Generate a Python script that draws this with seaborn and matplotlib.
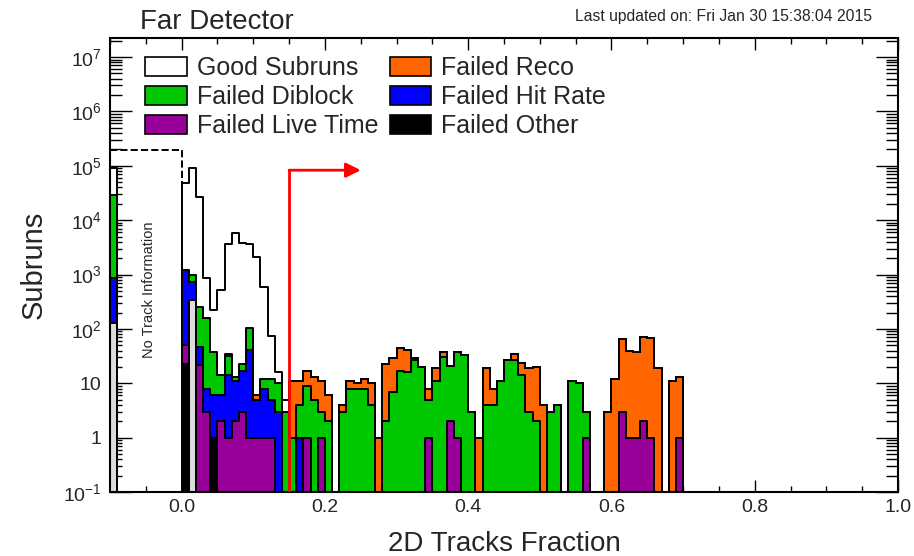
import numpy as np
import pandas as pd
import matplotlib
matplotlib.use("Agg")
import matplotlib.pyplot as plt
import matplotlib.ticker as mticker
from matplotlib.patches import Patch
import seaborn as sns

# 0.01 wide bins from -0.1 to 1.0
bin_edges = list(np.round(np.linspace(-0.1, 1.0, 111), 2))
bin_lo = np.round(np.arange(70) * 0.01, 2)      # bins 0.00 .. 0.69
first_lo = -0.10                                # lone bin at -0.10

# stacking order, top first (seaborn stacks the last level at the bottom)
categories = ["Good Subruns", "Failed Reco", "Failed Diblock", "Failed Hit Rate",
              "Failed Live Time", "Failed Other", "Unlisted"]
colors = ["white", "#ff6600", "#00c800", "#0000ff", "#990099", "black", "#dcdcdc"]

# counts in the -0.10 bin, same order as categories
first_counts = [64000, 0, 28100, 750, 0, 0, 130]

good = [46800, 92000, 26750, 692, 186, 506, 3565, 5787, 3777, 3497,
        2094, 588, 61, 6, 2, 0, 0, 0, 0, 0] + [0] * 50
reco = [0, 0, 0, 0, 0, 0, 3, 0, 0, 0,
        1, 0, 0, 0, 0, 10, 7, 8, 8, 8,
        4, 0, 1, 3, 2, 4, 6, 1, 21, 22,
        27, 25, 2, 0, 3, 8, 7, 0, 0, 0,
        0, 1, 15, 4, 0, 0, 7, 10, 16, 18,
        4, 0, 0, 0, 0, 0, 0, 0, 0, 3,
        12, 63, 38, 37, 68, 66, 19, 0, 11, 12]
diblock = [0, 240, 203, 150, 32, 8, 18, 2, 6, 62,
           0, 4, 7, 7, 3, 1, 3, 8, 5, 2,
           2, 0, 3, 8, 8, 8, 4, 0, 2, 7,
           17, 16, 27, 20, 4, 11, 31, 19, 36, 33,
           3, 0, 4, 4, 11, 27, 27, 14, 3, 2,
           0, 3, 4, 0, 11, 10, 2, 0, 0, 0] + [0] * 10
hit_rate = [1149, 400, 25, 5, 5, 4, 13, 9, 14, 40,
            4, 7, 4, 3, 0, 0, 1, 0, 0, 0] + [0] * 50
live_time = [28, 0, 22, 3, 0, 2, 1, 2, 3, 1,
             1, 1, 1, 0, 0, 0, 0, 1, 0, 1,
             0, 0, 0, 0, 0, 0, 0, 0, 0, 0,
             0, 0, 0, 0, 1, 0, 0, 2, 1, 0,
             0, 0, 0, 0, 0, 0, 0, 0, 0, 0,
             0, 0, 0, 0, 0, 0, 1, 0, 0, 0,
             0, 3, 1, 1, 2, 1, 0, 0, 0, 1]
other = [23, 0, 0, 0, 1] + [0] * 65
unlisted = [0, 340] + [0] * 68

no_track = 1.95e5          # dashed box over -0.1 .. 0.0
cut_value = 0.15
arrow_end = 0.25
arrow_height = 8.3e4

ytick_vals = [0.1, 1, 10, 100, 1e3, 1e4, 1e5, 1e6, 1e7]
ytick_labels = ["$10^{-1}$", "1", "10", "$10^{2}$", "$10^{3}$", "$10^{4}$",
                "$10^{5}$", "$10^{6}$", "$10^{7}$"]

all_counts = [good, reco, diblock, hit_rate, live_time, other, unlisted]
rows = []
for name, first, vals in zip(categories, first_counts, all_counts):
    rows.append((first_lo + 0.005, first, name))
    for lo, n in zip(bin_lo, vals):
        rows.append((lo + 0.005, n, name))
df = pd.DataFrame(rows, columns=["frac", "count", "status"])

sns.set_theme(style="ticks")
plt.rcParams["font.family"] = ["Liberation Sans", "DejaVu Sans"]
plt.rcParams["mathtext.fontset"] = "custom"
plt.rcParams["mathtext.rm"] = "Liberation Sans"
plt.rcParams["mathtext.default"] = "regular"

fig = plt.figure(figsize=(9.14, 5.56), dpi=100)
ax = fig.add_axes([110 / 914, 1 - 492 / 556, 788 / 914, 454 / 556])

# dashed "no track" box
sns.histplot(x=[-0.05, 0.005], weights=[no_track, 0], bins=[-0.1, 0.0, 0.01],
             element="step", fill=False, color="black", linestyle="--",
             linewidth=1.4, zorder=0.5, ax=ax)

sns.histplot(data=df, x="frac", weights="count", hue="status",
             hue_order=categories, palette=dict(zip(categories, colors)),
             multiple="stack", bins=bin_edges, element="step", fill=True,
             alpha=1, edgecolor="black", linewidth=1.4, legend=False, ax=ax)

ax.set_yscale("log")
ax.set_xlim(-0.1, 1.0)
ax.set_ylim(0.1, 2.24e7)

ax.plot([cut_value, cut_value], [0.1, arrow_height], color="red", lw=2, zorder=5)
ax.annotate("", xy=(arrow_end, arrow_height), xytext=(cut_value, arrow_height),
            arrowprops=dict(arrowstyle="-|>", color="red", lw=2, mutation_scale=22,
                            shrinkA=0, shrinkB=0), zorder=5)

ax.text(-0.045, 525, "No Track Information", rotation=90, ha="center", va="center",
        fontsize=10.5)

ax.set_yticks(ytick_vals, ytick_labels)
ax.yaxis.set_minor_locator(mticker.LogLocator(base=10, subs=np.arange(2, 10), numticks=100))
ax.yaxis.set_minor_formatter(mticker.NullFormatter())
ax.xaxis.set_major_locator(mticker.MultipleLocator(0.2))
ax.xaxis.set_minor_locator(mticker.MultipleLocator(0.05))
ax.xaxis.set_major_formatter(mticker.FormatStrFormatter("%.1f"))
ax.tick_params(which="both", direction="in", top=True, right=True, width=1,
               labelsize=14, color="black")
ax.tick_params(axis="x", which="major", length=8.5, pad=5)
ax.tick_params(axis="x", which="minor", length=4.3)
ax.tick_params(axis="y", which="major", length=16, pad=6)
ax.tick_params(axis="y", which="minor", length=8.5)
for s in ax.spines.values():
    s.set_linewidth(1.5)
    s.set_color("black")

ax.set_xlabel("2D Tracks Fraction", fontsize=20, labelpad=11)
ax.set_ylabel("Subruns", fontsize=21, labelpad=11)

handles = [Patch(facecolor=c, edgecolor="black", linewidth=1.2) for c in colors[:6]]
leg_order = [0, 2, 4, 1, 3, 5]
fig.legend([handles[i] for i in leg_order], [categories[i] for i in leg_order],
           ncol=2, loc="upper left", bbox_to_anchor=(145 / 914, 1 - 56 / 556),
           frameon=False, fontsize=18, handlelength=1.67, handleheight=0.8,
           handletextpad=0.4, labelspacing=0.2, columnspacing=0.45,
           borderpad=0, borderaxespad=0)

fig.text(140 / 914, 1 - 22 / 556, "Far Detector", fontsize=20, ha="left", va="center")
fig.text(575 / 914, 1 - 16 / 556, "Last updated on: Fri Jan 30 15:38:04 2015",
         fontsize=11.3, ha="left", va="center")

fig.savefig("out.png", dpi=100)
